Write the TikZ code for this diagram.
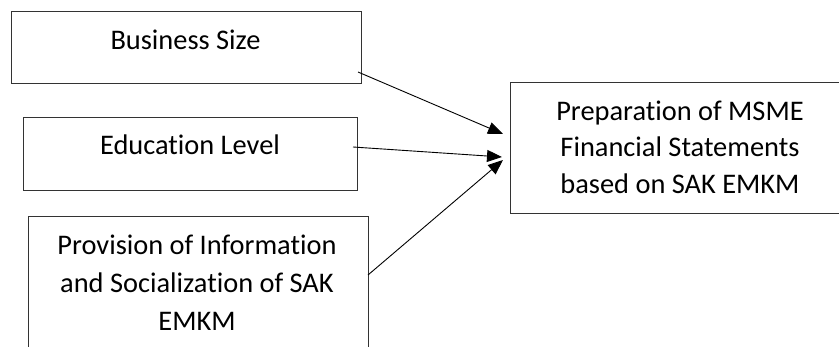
\documentclass[tikz,border=0pt]{standalone}
\usepackage{fontspec}
\setmainfont{Carlito}[Ligatures=NoCommon]
\usetikzlibrary{arrows.meta}
\begin{document}
\begin{tikzpicture}[x=1pt,y=-1pt,
  box/.style={draw=black!80, line width=0.9pt, inner sep=0pt, outer sep=0pt, anchor=north west},
  lbl/.style={font=\fontsize{28.4}{37}\selectfont, anchor=base, inner sep=0pt},
  arr/.style={draw=black, line width=0.9pt, -{Triangle[length=15pt,width=12pt]}}]
\clip (0,0) rectangle (839,347);
% boxes
\node[box, minimum width=350pt, minimum height=72pt] (size) at (11,11) {};
\node[box, minimum width=334pt, minimum height=73pt] (edu) at (23,117) {};
\node[box, minimum width=340pt, minimum height=184pt] (prov) at (28,216) {};
\node[box, minimum width=340pt, minimum height=131pt] (prep) at (510,82) {};
% labels
\node[lbl] (sizet) at (185.5,50) {Business Size};
\node[lbl] (edut) at (190,155) {Education Level};
\node[lbl] (provt1) at (197,255) {Provision of Information};
\node[lbl] (provt2) at (197,293) {and Socialization of SAK};
\node[lbl] (provt3) at (197,331) {EMKM};
\node[lbl] (prept1) at (680,120.5) {Preparation of MSME};
\node[lbl] (prept2) at (680,157) {Financial Statements};
\node[lbl] (prept3) at (680,193.5) {based on SAK EMKM};
% connector ends
\coordinate (s1) at (358,72);
\coordinate (s2) at (353,147);
\coordinate (s3) at (368,275);
\coordinate (t1) at (503,134);
\coordinate (t2) at (502,157);
\coordinate (t3) at (503,160);
\draw[arr] (s1) -- (t1);
\draw[arr] (s2) -- (t2);
\draw[arr] (s3) -- (t3);
\end{tikzpicture}
\end{document}
